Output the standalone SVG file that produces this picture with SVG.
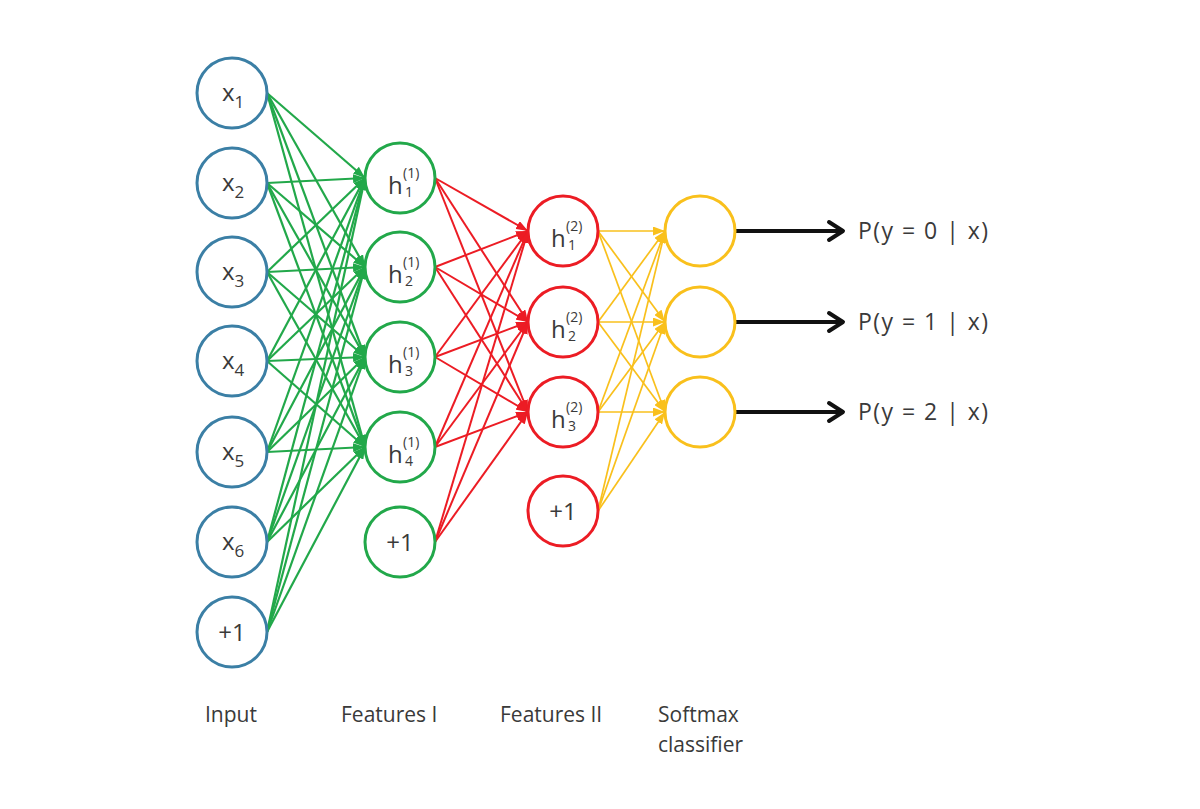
<svg xmlns="http://www.w3.org/2000/svg" width="1200" height="809" viewBox="0 0 1200 809">
<style>
.nb{fill:#fff;stroke:#3b7fa5;stroke-width:3}
.ng{fill:#fff;stroke:#22a84a;stroke-width:3}
.nr{fill:#fff;stroke:#ec1c24;stroke-width:3}
.ny{fill:#fff;stroke:#f9c01c;stroke-width:3}
text{font-family:"Open Sans","Liberation Sans",sans-serif;fill:#3a3a3a}
.t{font-size:24px}
.s{font-size:14px}
.xs{font-size:17px}
.lab{font-size:21px}
.p{font-size:23px}
.eg line{stroke:#22a84a;stroke-width:2.2;marker-end:url(#ag)}
.er line{stroke:#ec1c24;stroke-width:2;marker-end:url(#ar)}
.ey line{stroke:#f9c01c;stroke-width:1.7;marker-end:url(#ay)}
.ek line{stroke:#111;stroke-width:4}
.ek path{fill:none;stroke:#111;stroke-width:4;stroke-linecap:round;stroke-linejoin:round}
</style>
<defs>
<marker id="ag" markerUnits="userSpaceOnUse" markerWidth="12" markerHeight="9" refX="12" refY="4.5" orient="auto"><path d="M0,0 L12,4.5 L0,9 z" fill="#22a84a"/></marker>
<marker id="ar" markerUnits="userSpaceOnUse" markerWidth="12" markerHeight="9" refX="12" refY="4.5" orient="auto"><path d="M0,0 L12,4.5 L0,9 z" fill="#ec1c24"/></marker>
<marker id="ay" markerUnits="userSpaceOnUse" markerWidth="12" markerHeight="9" refX="12" refY="4.5" orient="auto"><path d="M0,0 L12,4.5 L0,9 z" fill="#f9c01c"/></marker>
</defs>
<rect width="1200" height="809" fill="#fff"/>
<g id="connectors">
<g class="eg">
<line x1="267" y1="93" x2="365" y2="178"/><line x1="267" y1="93" x2="365" y2="267"/><line x1="267" y1="93" x2="365" y2="357"/><line x1="267" y1="93" x2="365" y2="447"/>
<line x1="267" y1="183" x2="365" y2="178"/><line x1="267" y1="183" x2="365" y2="267"/><line x1="267" y1="183" x2="365" y2="357"/><line x1="267" y1="183" x2="365" y2="447"/>
<line x1="267" y1="272" x2="365" y2="178"/><line x1="267" y1="272" x2="365" y2="267"/><line x1="267" y1="272" x2="365" y2="357"/><line x1="267" y1="272" x2="365" y2="447"/>
<line x1="267" y1="361" x2="365" y2="178"/><line x1="267" y1="361" x2="365" y2="267"/><line x1="267" y1="361" x2="365" y2="357"/><line x1="267" y1="361" x2="365" y2="447"/>
<line x1="267" y1="452" x2="365" y2="178"/><line x1="267" y1="452" x2="365" y2="267"/><line x1="267" y1="452" x2="365" y2="357"/><line x1="267" y1="452" x2="365" y2="447"/>
<line x1="267" y1="542" x2="365" y2="178"/><line x1="267" y1="542" x2="365" y2="267"/><line x1="267" y1="542" x2="365" y2="357"/><line x1="267" y1="542" x2="365" y2="447"/>
<line x1="267" y1="632" x2="365" y2="178"/><line x1="267" y1="632" x2="365" y2="267"/><line x1="267" y1="632" x2="365" y2="357"/><line x1="267" y1="632" x2="365" y2="447"/>
</g>
<g class="er">
<line x1="435" y1="178" x2="528" y2="231"/><line x1="435" y1="178" x2="528" y2="322"/><line x1="435" y1="178" x2="528" y2="412"/>
<line x1="435" y1="267" x2="528" y2="231"/><line x1="435" y1="267" x2="528" y2="322"/><line x1="435" y1="267" x2="528" y2="412"/>
<line x1="435" y1="357" x2="528" y2="231"/><line x1="435" y1="357" x2="528" y2="322"/><line x1="435" y1="357" x2="528" y2="412"/>
<line x1="435" y1="447" x2="528" y2="231"/><line x1="435" y1="447" x2="528" y2="322"/><line x1="435" y1="447" x2="528" y2="412"/>
<line x1="435" y1="542" x2="528" y2="231"/><line x1="435" y1="542" x2="528" y2="322"/><line x1="435" y1="542" x2="528" y2="412"/>
</g>
<g class="ey">
<line x1="598" y1="231" x2="665" y2="231"/><line x1="598" y1="231" x2="665" y2="322"/><line x1="598" y1="231" x2="665" y2="412"/>
<line x1="598" y1="322" x2="665" y2="231"/><line x1="598" y1="322" x2="665" y2="322"/><line x1="598" y1="322" x2="665" y2="412"/>
<line x1="598" y1="412" x2="665" y2="231"/><line x1="598" y1="412" x2="665" y2="322"/><line x1="598" y1="412" x2="665" y2="412"/>
<line x1="598" y1="511" x2="665" y2="231"/><line x1="598" y1="511" x2="665" y2="322"/><line x1="598" y1="511" x2="665" y2="412"/>
</g>
<g class="ek">
<line x1="735" y1="231" x2="842" y2="231"/><path d="M829,222 L843,231 L829,240"/>
<line x1="735" y1="322" x2="842" y2="322"/><path d="M829,313 L843,322 L829,331"/>
<line x1="735" y1="412" x2="842" y2="412"/><path d="M829,403 L843,412 L829,421"/>
</g>
</g>
<g id="in1"><circle class="nb" cx="232" cy="93" r="35"/><text class="t" x="222" y="101">x<tspan class="xs" dy="7">1</tspan></text></g>
<g id="in2"><circle class="nb" cx="232" cy="183" r="35"/><text class="t" x="222" y="191">x<tspan class="xs" dy="7">2</tspan></text></g>
<g id="in3"><circle class="nb" cx="232" cy="272" r="35"/><text class="t" x="222" y="280">x<tspan class="xs" dy="7">3</tspan></text></g>
<g id="in4"><circle class="nb" cx="232" cy="361" r="35"/><text class="t" x="222" y="369">x<tspan class="xs" dy="7">4</tspan></text></g>
<g id="in5"><circle class="nb" cx="232" cy="452" r="35"/><text class="t" x="222" y="460">x<tspan class="xs" dy="7">5</tspan></text></g>
<g id="in6"><circle class="nb" cx="232" cy="542" r="35"/><text class="t" x="222" y="550">x<tspan class="xs" dy="7">6</tspan></text></g>
<g id="inb"><circle class="nb" cx="232" cy="632" r="35"/><text class="t" x="232" y="641" text-anchor="middle">+1</text></g>
<g id="f1"><circle class="ng" cx="400" cy="178" r="35"/><text class="t" x="388" y="194">h</text><text class="s" x="403" y="178">(1)</text><text class="s" x="405" y="197">1</text></g>
<g id="f2"><circle class="ng" cx="400" cy="267" r="35"/><text class="t" x="388" y="283">h</text><text class="s" x="403" y="267">(1)</text><text class="s" x="405" y="286">2</text></g>
<g id="f3"><circle class="ng" cx="400" cy="357" r="35"/><text class="t" x="388" y="373">h</text><text class="s" x="403" y="357">(1)</text><text class="s" x="405" y="376">3</text></g>
<g id="f4"><circle class="ng" cx="400" cy="447" r="35"/><text class="t" x="388" y="463">h</text><text class="s" x="403" y="447">(1)</text><text class="s" x="405" y="466">4</text></g>
<g id="fb"><circle class="ng" cx="400" cy="542" r="35"/><text class="t" x="400" y="551" text-anchor="middle">+1</text></g>
<g id="g1"><circle class="nr" cx="563" cy="231" r="35"/><text class="t" x="551" y="247">h</text><text class="s" x="566" y="231">(2)</text><text class="s" x="568" y="250">1</text></g>
<g id="g2"><circle class="nr" cx="563" cy="322" r="35"/><text class="t" x="551" y="338">h</text><text class="s" x="566" y="322">(2)</text><text class="s" x="568" y="341">2</text></g>
<g id="g3"><circle class="nr" cx="563" cy="412" r="35"/><text class="t" x="551" y="428">h</text><text class="s" x="566" y="412">(2)</text><text class="s" x="568" y="431">3</text></g>
<g id="gb"><circle class="nr" cx="563" cy="511" r="35"/><text class="t" x="563" y="520" text-anchor="middle">+1</text></g>
<g id="s1"><circle class="ny" cx="700" cy="231" r="35"/></g>
<g id="s2"><circle class="ny" cx="700" cy="322" r="35"/></g>
<g id="s3"><circle class="ny" cx="700" cy="412" r="35"/></g>
<g id="out0"><text class="p" x="858" y="239" textLength="130" lengthAdjust="spacing">P(y = 0 | x)</text></g>
<g id="out1"><text class="p" x="858" y="330" textLength="130" lengthAdjust="spacing">P(y = 1 | x)</text></g>
<g id="out2"><text class="p" x="858" y="420" textLength="130" lengthAdjust="spacing">P(y = 2 | x)</text></g>
<g id="labels">
<text class="lab" x="205" y="722">Input</text>
<text class="lab" x="341" y="722">Features I</text>
<text class="lab" x="500" y="722">Features II</text>
<text class="lab" x="658" y="722">Softmax</text>
<text class="lab" x="658" y="752">classifier</text>
</g>
</svg>
